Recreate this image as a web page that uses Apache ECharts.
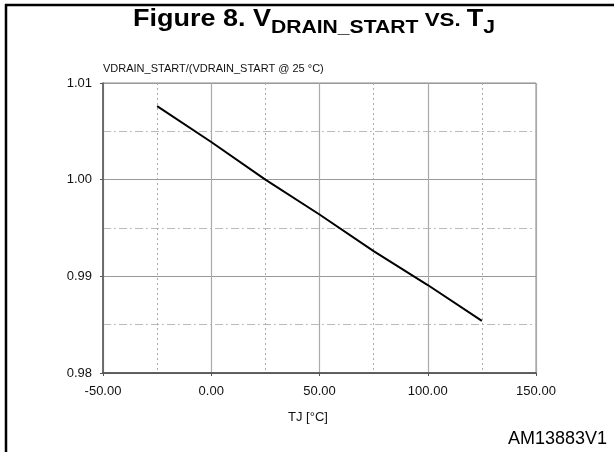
<!DOCTYPE html>
<html>
<head>
<meta charset="utf-8">
<script src="https://cdn.jsdelivr.net/npm/echarts@6/dist/echarts.min.js"></script>
<style>
html,body{margin:0;padding:0;background:#fff;}
#chart{width:614px;height:452px;}
</style>
</head>
<body>
<div id="chart"></div>
<script>
// Data
const tempC = [-25, 0, 25, 50, 75, 100, 125];
const ratio = [1.0076, 1.0039, 1.0000, 0.9964, 0.9926, 0.9891, 0.9854];
const xTicks = [-50, 0, 50, 100, 150];
const yTicks = [0.98, 0.99, 1.00, 1.01];
const titleParts = [
  {text: 'Figure 8. V', size: 23, sub: false},
  {text: 'DRAIN_START', size: 18, sub: true},
  {text: ' VS. ', size: 19, sub: false},
  {text: 'T', size: 23, sub: false},
  {text: 'J', size: 18, sub: true}
];
const yName = 'VDRAIN_START/(VDRAIN_START @ 25 \u00b0C)';
const xName = 'TJ [\u00b0C]';
const figCode = 'AM13883V1';

const chart = echarts.init(document.getElementById('chart'), null, {renderer: 'canvas'});
const FONT = '"Liberation Sans", Arial, sans-serif';

// Build title pieces with measured widths
const ctx = document.createElement('canvas').getContext('2d');
let cx = 0;
const titleChildren = [];
titleParts.forEach(p => {
  const font = 'bold ' + p.size + 'px ' + FONT;
  ctx.font = font;
  const w = ctx.measureText(p.text).width;
  const baseline = p.sub ? 34 : 27.7;
  titleChildren.push({
    type: 'text', x: cx, y: baseline - 0.3465 * p.size,
    style: {text: p.text, font: font, fill: '#000', textAlign: 'left', textVerticalAlign: 'middle'}
  });
  cx += w;
});
const titleLeft = 133, titleRight = 495;
const titleScale = (titleRight - titleLeft) / cx;

const option = {
  backgroundColor: '#fff',
  animation: false,
  grid: {left: 103, right: 78, top: 83, bottom: 79, show: true, borderColor: '#888', borderWidth: 1},
  xAxis: {
    type: 'value', min: xTicks[0], max: xTicks[xTicks.length - 1], interval: 50,
    name: xName, nameLocation: 'middle', nameGap: 38,
    nameTextStyle: {fontFamily: FONT, fontSize: 13, color: '#111', padding: [0, 23, 0, 0]},
    axisLine: {show: true, onZero: false, lineStyle: {color: '#444', width: 1.5}},
    axisTick: {show: true, length: 3, lineStyle: {color: '#555'}},
    axisLabel: {margin: 12, fontFamily: FONT, fontSize: 13, color: '#111', formatter: v => v.toFixed(2)},
    splitLine: {show: true, lineStyle: {color: '#aaa', width: 1.2}},
    minorTick: {show: false, splitNumber: 2},
    minorSplitLine: {show: true, lineStyle: {color: '#aaa', width: 1, type: [2, 3]}}
  },
  yAxis: {
    type: 'value', min: yTicks[0], max: yTicks[yTicks.length - 1], interval: 0.01,
    name: yName, nameLocation: 'end', nameGap: 14,
    nameTextStyle: {fontFamily: FONT, fontSize: 11, color: '#111', align: 'left', verticalAlign: 'middle'},
    axisLine: {show: true, onZero: false, lineStyle: {color: '#555', width: 1.5}},
    axisTick: {show: true, length: 3, lineStyle: {color: '#555'}},
    axisLabel: {margin: 11, fontFamily: FONT, fontSize: 13, color: '#111', formatter: v => v.toFixed(2)},
    splitLine: {show: true, lineStyle: {color: '#999', width: 1}},
    minorTick: {show: false, splitNumber: 2},
    minorSplitLine: {show: true, lineStyle: {color: '#bbb', width: 1.2, type: [8, 3, 2, 3]}}
  },
  series: [{
    type: 'line',
    data: tempC.map((t, i) => [t, ratio[i]]),
    showSymbol: false, smooth: false,
    lineStyle: {color: '#000', width: 2}
  }],
  graphic: [
    {type: 'line', shape: {x1: 5, y1: 5, x2: 614, y2: 5}, style: {stroke: '#000', lineWidth: 2.5}},
    {type: 'line', shape: {x1: 6, y1: 4, x2: 6, y2: 452}, style: {stroke: '#000', lineWidth: 2.5}},
    {type: 'group', x: titleLeft, y: 0, scaleX: titleScale, children: titleChildren},
    {
      type: 'text', x: 508, y: 445.7 - 0.3465 * 18,
      style: {text: figCode, fontFamily: FONT, fontSize: 18, fill: '#000', textAlign: 'left', textVerticalAlign: 'middle'}
    }
  ]
};
chart.setOption(option);
</script>
</body>
</html>
